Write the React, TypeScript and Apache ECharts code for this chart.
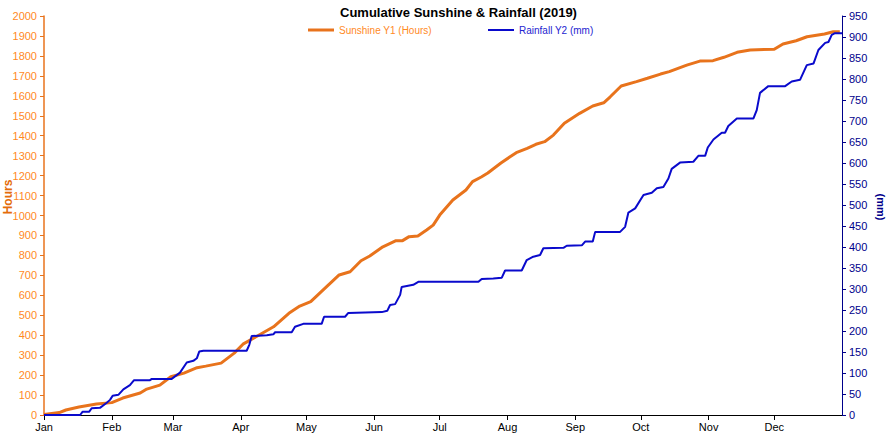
import React, { useEffect, useRef } from "react";
import * as echarts from "echarts";

const monthLabels = ["Jan", "Feb", "Mar", "Apr", "May", "Jun", "Jul", "Aug", "Sep", "Oct", "Nov", "Dec"];

// day-of-year offsets (0 = 1 Jan 2019) and cumulative sunshine hours
const sunDays = [0, 7, 10, 16, 24, 31, 36, 44, 47, 53, 58, 64, 70, 74, 81, 87, 91, 97, 105, 112, 117, 122, 126, 135, 140, 145, 149, 155, 161, 164, 167, 171, 175, 178, 181, 187, 193, 196, 200, 203, 209, 213, 216, 221, 225, 229, 233, 238, 245, 251, 256, 259, 264, 271, 276, 282, 286, 294, 300, 306, 311, 317, 323, 334, 338, 344, 349, 357, 361, 364];
const sunHours = [3, 12, 25, 40, 55, 62, 85, 110, 130, 150, 192, 210, 237, 245, 260, 310, 355, 392, 442, 510, 546, 568, 610, 702, 718, 773, 797, 843, 874, 874, 894, 897, 927, 952, 1002, 1078, 1128, 1170, 1193, 1213, 1263, 1293, 1315, 1337, 1357, 1370, 1403, 1462, 1512, 1549, 1565, 1595, 1649, 1671, 1688, 1709, 1721, 1754, 1774, 1776, 1793, 1818, 1830, 1833, 1860, 1876, 1896, 1910, 1921, 1921];

// day-of-year offsets and cumulative rainfall (mm)
const rainDays = [0, 16.5, 17.7, 20.7, 21.8, 25.6, 28.7, 30.2, 31.4, 34, 36.3, 39.3, 41.2, 48.5, 49.3, 58.4, 62.2, 65.3, 68.3, 69.9, 71, 72.9, 92.7, 93.9, 95, 101.9, 104.9, 105.7, 113.3, 114.8, 118.6, 127, 128.1, 137.7, 139.2, 154.5, 157, 158.3, 160.6, 162.9, 163.6, 168.9, 171.2, 198.7, 200.2, 205.5, 209.4, 210.9, 218.5, 220.8, 223.8, 226.9, 228.4, 237.6, 239.1, 246, 247.5, 251, 252.1, 263.5, 265.8, 267.3, 270.4, 274.2, 278, 280.3, 283.3, 285.6, 287.1, 290.9, 297, 299.3, 302.4, 303.6, 306.2, 310, 311.5, 313, 316.9, 324.5, 326, 327.5, 331.3, 339, 342, 345.8, 348.9, 352, 354.2, 357.3, 358.8, 360.3, 361.8, 365];
const rainMm = [0, 0, 8, 8, 16, 17, 29, 36, 46, 48, 61, 71, 83, 83, 86, 86, 101, 125, 129, 135, 151, 153, 153, 167, 188, 190, 192, 197, 197, 210, 217, 217, 234, 234, 243, 245, 248, 262, 264, 286, 305, 310, 317, 317, 324, 325, 327, 344, 344, 369, 377, 381, 397, 398, 403, 404, 413, 413, 436, 436, 448, 482, 492, 524, 529, 540, 543, 563, 586, 601, 603, 617, 617, 637, 656, 672, 672, 688, 706, 706, 726, 767, 783, 783, 794, 798, 833, 837, 869, 886, 888, 905, 909, 909];

const DAY = 86400000;
const start = new Date(2019, 0, 1).getTime();
const end = new Date(2020, 0, 1).getTime();
const toTime = (d: number) => start + d * DAY;

const ORANGE = "#E8731C";
const ORANGE_TXT = "#FF8A1F";
const BLUE = "#0A0ACC";
const NAVY = "#00008B";
const FONT = "'Liberation Sans', Arial, sans-serif";

export default function App() {
  const ref = useRef<HTMLDivElement>(null);
  useEffect(() => {
    if (!ref.current) return;
    const chart = echarts.init(ref.current, null, { renderer: "svg" });
    chart.setOption({
      animation: false,
      textStyle: { fontFamily: FONT },
      title: {
        text: "Cumulative Sunshine & Rainfall (2019)",
        left: 335,
        top: 1,
        textStyle: { fontSize: 13, fontWeight: "bold", color: "#000", fontFamily: FONT },
      },
      legend: [
        {
          data: ["Sunshine Y1 (Hours)"],
          left: 303,
          top: 20,
          icon: "rect",
          itemWidth: 26,
          itemHeight: 3,
          textStyle: { fontSize: 10, color: ORANGE_TXT, fontFamily: FONT },
        },
        {
          data: ["Rainfall Y2 (mm)"],
          left: 483,
          top: 20,
          icon: "rect",
          itemWidth: 26,
          itemHeight: 2,
          textStyle: { fontSize: 10, color: "#2424D0", fontFamily: FONT },
        },
      ],
      grid: { left: 44, right: 48, top: 16, bottom: 19, containLabel: false },
      xAxis: {
        type: "time",
        min: start,
        max: end,
        splitNumber: 12,
        minInterval: 28 * DAY,
        maxInterval: 31 * DAY,
        axisLine: { show: true, lineStyle: { color: "#000", width: 1 } },
        axisTick: { show: true, length: 5, lineStyle: { color: "#000" } },
        splitLine: { show: false },
        axisLabel: {
          fontSize: 11,
          color: "#000",
          fontFamily: FONT,
          margin: 6,
          showMaxLabel: false,
          hideOverlap: false,
          formatter: (v: number) => {
            const d = new Date(v);
            if (d.getFullYear() !== 2019) return "";
            return monthLabels[d.getMonth()];
          },
        },
      },
      yAxis: [
        {
          type: "value",
          min: 0,
          max: 2000,
          interval: 100,
          position: "left",
          axisLine: { show: true, lineStyle: { color: ORANGE, width: 1.5 } },
          axisTick: { show: true, length: 4, lineStyle: { color: ORANGE } },
          splitLine: { show: false },
          axisLabel: { fontSize: 11, color: ORANGE_TXT, fontFamily: FONT, margin: 7, formatter: (v: number) => String(v) },
        },
        {
          type: "value",
          min: 0,
          max: 950,
          interval: 50,
          position: "right",
          axisLine: { show: true, lineStyle: { color: NAVY, width: 1 } },
          axisTick: { show: true, length: 4, lineStyle: { color: NAVY } },
          splitLine: { show: false },
          axisLabel: { fontSize: 11, color: NAVY, fontFamily: FONT, margin: 7, formatter: (v: number) => String(v) },
        },
      ],
      graphic: [
        {
          type: "text",
          x: 8,
          y: 197,
          rotation: Math.PI / 2,
          style: {
            text: "Hours",
            fill: "#E46C0A",
            font: `bold 12px ${FONT}`,
            textAlign: "center",
            textVerticalAlign: "middle",
          },
        },
        {
          type: "text",
          x: 881,
          y: 207,
          rotation: -Math.PI / 2,
          style: {
            text: "(mm)",
            fill: NAVY,
            font: `bold 11px ${FONT}`,
            textAlign: "center",
            textVerticalAlign: "middle",
          },
        },
      ],
      series: [
        {
          name: "Sunshine Y1 (Hours)",
          type: "line",
          yAxisIndex: 0,
          showSymbol: false,
          symbol: "none",
          lineStyle: { color: ORANGE, width: 3 },
          itemStyle: { color: ORANGE },
          data: sunDays.map((d, i) => [toTime(d), sunHours[i]]),
          z: 2,
        },
        {
          name: "Rainfall Y2 (mm)",
          type: "line",
          yAxisIndex: 1,
          showSymbol: false,
          symbol: "none",
          lineStyle: { color: BLUE, width: 2 },
          itemStyle: { color: BLUE },
          data: rainDays.map((d, i) => [toTime(d), rainMm[i]]),
          z: 3,
        },
      ],
    });
    return () => chart.dispose();
  }, []);
  return <div ref={ref} style={{ width: 890, height: 434, position: "absolute", left: 0, top: 0 }} />;
}
